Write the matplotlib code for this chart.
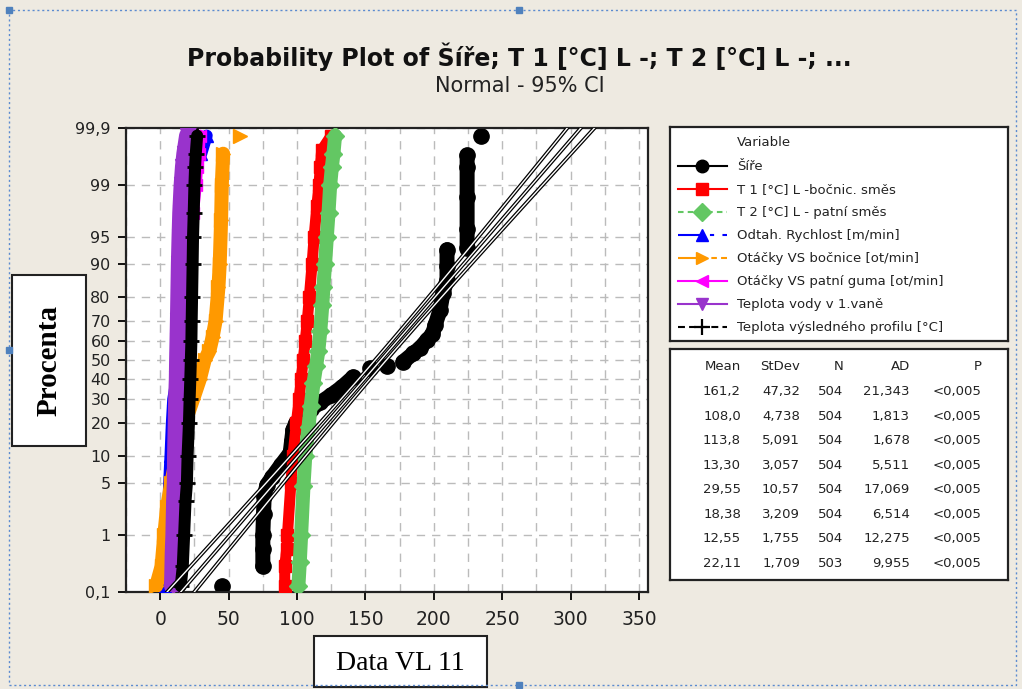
import matplotlib
matplotlib.use('Agg')
import numpy as np
import matplotlib.pyplot as plt
from matplotlib.patches import Rectangle
from statistics import NormalDist

plt.rcParams['font.family'] = ['DejaVu Sans']
plt.rcParams['lines.scale_dashes'] = False

# ---- data: (value, cumulative percent) per variable ----
sire_x = [45, 75, 75, 75, 75.5, 76, 78, 82, 88, 95, 96, 97, 99, 104.5, 110, 117, 125, 133,
          141, 153, 166, 177.5, 185, 190, 195, 199, 201, 204.5, 206.7, 209.6, 209.6, 209.6,
          224.3, 224.3, 224.3, 224.3, 224.3, 234.5]
sire_p = [0.13, 0.3, 0.6, 1.0, 2.0, 3.5, 4.8, 6, 8, 10.8, 14, 17.6, 20, 22.4, 25.5, 28.6, 32, 36,
          41, 45.7, 47, 49, 53.5, 56.4, 60.5, 63.5, 68, 74.7, 81.4, 85.7, 89.5, 92.9,
          93.2, 96, 98.5, 99.49, 99.68, 99.86]

t1_x = [91, 91, 92.5, 93, 95.5, 97, 99.5, 101.5, 103, 104.5, 106, 107.5, 109, 111, 112.5, 114.5,
        116, 117, 118, 125]
t1_p = [0.13, 0.3, 0.6, 1, 5, 10, 20, 30, 40, 50, 60, 70, 80, 90, 95, 98,
        99, 99.5, 99.74, 99.86]

t2_x = [101, 102, 103, 104.7, 106, 108.4, 110, 112, 114, 115.6, 117, 118.5, 119.3, 120.5, 121.8,
        123, 124.2, 125.5, 126.6, 127.8]
t2_p = [0.13, 0.35, 1, 4.6, 10, 18.7, 27, 37.8, 47, 55, 65, 77, 83.5, 90, 95,
        97.5, 99, 99.5, 99.7, 99.86]

odtah_x = [3.5, 4.5, 5.5, 6.5, 7.5, 8.5, 9.5, 12, 13, 14, 15, 15.5, 16, 16.5, 17, 20, 25, 30, 34]
odtah_p = [0.13, 0.5, 1, 5, 10, 20, 30, 40, 50, 60, 70, 80, 90, 95, 97.5, 99, 99.5, 99.7, 99.86]

bocnice_x = [-3, 1, 3, 5, 8, 12, 18, 24, 29, 32.5, 36, 38.3, 40.5, 42.6, 43.5, 44.5, 45, 46, 58]
bocnice_p = [0.13, 0.3, 1, 2.5, 5, 10, 20, 30, 40, 50, 55, 62, 70, 83.6, 90, 96.9, 99, 99.7, 99.86]

patni_x = [11, 13, 14, 15.5, 16, 17, 17.5, 18, 18.5, 19, 19.5, 20, 21, 22, 24, 26, 27, 28, 29]
patni_p = [0.13, 0.3, 1, 5, 10, 20, 30, 40, 50, 60, 70, 80, 90, 95, 97.5, 99, 99.5, 99.7, 99.86]

voda_x = [9, 9.5, 10, 10.5, 11, 11.2, 11.7, 12, 12.5, 12.7, 13, 13.3, 13.6, 14, 14.5, 15, 16, 17,
          18, 20]
voda_p = [0.13, 0.5, 1, 3, 5, 10, 20, 30, 40, 50, 60, 70, 80, 90, 95, 97.5, 99, 99.5,
          99.7, 99.86]

profil_x = [15, 16.5, 17.5, 18.5, 19.5, 20, 21, 21.5, 22, 22.4, 22.8, 23, 23.3, 23.7, 24, 24.5,
            25, 25.5, 26, 27]
profil_p = [0.13, 0.3, 1, 3, 5, 10, 20, 30, 40, 50, 60, 70, 80, 90, 95, 97.5,
            99, 99.5, 99.7, 99.86]

names = ['Šíře', 'T 1 [°C] L -bočnic. směs', 'T 2 [°C] L - patní směs',
         'Odtah. Rychlost [m/min]', 'Otáčky VS bočnice [ot/min]',
         'Otáčky VS patní guma [ot/min]', 'Teplota vody v 1.vaně',
         'Teplota výsledného profilu [°C]']

# summary table
means = ['161,2', '108,0', '113,8', '13,30', '29,55', '18,38', '12,55', '22,11']
stdevs = ['47,32', '4,738', '5,091', '3,057', '10,57', '3,209', '1,755', '1,709']
counts = ['504', '504', '504', '504', '504', '504', '504', '503']
ads = ['21,343', '1,813', '1,678', '5,511', '17,069', '6,514', '12,275', '9,955']
pvals = ['<0,005'] * 8

y_ticks = [0.1, 1, 5, 10, 20, 30, 40, 50, 60, 70, 80, 90, 95, 99, 99.9]
y_labels = ['0,1', '1', '5', '10', '20', '30', '40', '50', '60', '70', '80', '90', '95', '99', '99,9']
x_ticks = [0, 50, 100, 150, 200, 250, 300, 350]

# x, p, colour, marker, band width (px), marker size
series = [
    (sire_x, sire_p, 'black', 'o', 15, 11),
    (t1_x, t1_p, '#FF0000', 's', 11, 9),
    (t2_x, t2_p, '#63C763', 'D', 14, 9),
    (odtah_x, odtah_p, '#0000FF', '^', 12, 9),
    (bocnice_x, bocnice_p, '#FF9900', '>', 14, 10),
    (patni_x, patni_p, '#FF00FF', '<', 12, 9),
    (voda_x, voda_p, '#9933CC', 'v', 17, 11),
    (profil_x, profil_p, 'black', '+', 12, 11),
]
leg_styles = ['-', '-', (0, (4, 3)), (0, (17, 6, 3, 6)), (0, (14, 3, 4, 3, 4, 3)), '-', '-', (0, (5, 3))]

W, H = 1022, 689
nd = NormalDist()


def fx(x):
    return x / W


def fy(y):
    return 1 - y / H


def fwd(p):
    a = np.asarray(p, float)
    flat = np.clip(a.ravel() / 100.0, 1e-9, 1 - 1e-9)
    out = np.full(flat.shape, np.nan)
    for i, v in enumerate(flat):
        if np.isfinite(v):
            out[i] = nd.inv_cdf(v)
    return out.reshape(a.shape)


def inv(z):
    a = np.asarray(z, float)
    flat = a.ravel()
    out = np.full(flat.shape, np.nan)
    for i, v in enumerate(flat):
        if np.isfinite(v):
            out[i] = nd.cdf(v) * 100
    return out.reshape(a.shape)


fig = plt.figure(figsize=(W / 100, H / 100), dpi=100)
fig.patch.set_facecolor('#EEEAE1')

ax = fig.add_axes([fx(126), fy(592), fx(648) - fx(126), fy(128) - fy(592)])
ax.set_facecolor('white')
ax.set_yscale('function', functions=(fwd, inv))
ax.set_xlim(-25, 356.5)
ax.set_ylim(0.1, 99.9)

ax.set_xticks(x_ticks)
ax.set_xticks(np.arange(-25, 357, 25), minor=True)
ax.set_yticks(y_ticks)
ax.set_yticklabels(y_labels)
ax.yaxis.set_minor_locator(plt.NullLocator())
ax.tick_params(axis='x', which='major', direction='out', length=6, width=1.3,
               labelsize=13.5, pad=7, labelcolor='#222222')
ax.tick_params(axis='x', which='minor', length=0)
ax.tick_params(axis='y', direction='out', length=6, width=1.3, labelsize=11.5, pad=5,
               labelcolor='#222222')
ax.grid(True, which='both', axis='x', color='#BBBBBB', ls=(0, (6, 5)), lw=1)
ax.grid(True, which='major', axis='y', color='#BBBBBB', ls=(0, (6, 5)), lw=1)
ax.set_axisbelow(True)
for s in ax.spines.values():
    s.set_linewidth(1.6)
    s.set_color('#222222')

# data bands (drawn in legend order, later on top)
z = 2
for xs, ps, col, mk, band, ms in series:
    xs = np.asarray(xs, float)
    ps = np.asarray(ps, float)
    gaps = np.where(np.abs(np.diff(xs)) > 8)[0] + 1
    ax.plot(np.insert(xs, gaps, np.nan), np.insert(ps, gaps, np.nan), color=col,
            lw=band * 0.72, solid_capstyle='round', zorder=z)
    ax.plot(xs, ps, ls='none', marker=mk, color=col, ms=ms, mew=2 if mk == '+' else 1, zorder=z)
    z += 1

# fitted normal line with 95% CI for Šíře
mu = float(means[0].replace(',', '.'))
sd = float(stdevs[0].replace(',', '.'))
n = int(counts[0])
zz = np.linspace(-3.4, 3.4, 60)
pp = inv(zz)
half = 1.96 * sd * np.sqrt(1 / n + zz ** 2 / (2 * n))
for xx in (mu + zz * sd - half, mu + zz * sd, mu + zz * sd + half):
    ax.plot(xx, pp, color='black', lw=2.8, zorder=20)
    ax.plot(xx, pp, color='white', lw=1.0, zorder=21)

# titles
fig.text(fx(519), fy(57), 'Probability Plot of Šíře; T 1 [°C] L -; T 2 [°C] L -; ...',
         ha='center', va='center', fontsize=17, fontweight='bold', color='#111111')
fig.text(fx(520), fy(86), 'Normal - 95% CI', ha='center', va='center', fontsize=15,
         color='#222222')

# axis label boxes
fig.patches.append(Rectangle((fx(12), fy(446)), fx(86) - fx(12), fy(275) - fy(446),
                             transform=fig.transFigure, facecolor='white', edgecolor='#222222',
                             lw=1.5))
fig.text(fx(49), fy(360), 'Procenta', rotation=90, ha='center', va='center', fontsize=21,
         fontweight='bold', family='Liberation Serif')
fig.patches.append(Rectangle((fx(314), fy(687)), fx(487) - fx(314), fy(636) - fy(687),
                             transform=fig.transFigure, facecolor='white', edgecolor='#222222',
                             lw=1.5))
fig.text(fx(400), fy(663), 'Data VL 11', ha='center', va='center', fontsize=20,
         family='Liberation Serif')

# legend box
lg = fig.add_axes([fx(670), fy(341), fx(1008) - fx(670), fy(127) - fy(341)])
lg.set_xlim(670, 1008)
lg.set_ylim(341, 127)
lg.set_xticks([])
lg.set_yticks([])
for s in lg.spines.values():
    s.set_linewidth(1.6)
    s.set_color('#222222')
lg.text(737, 143, 'Variable', va='center', fontsize=9.5, color='#222222')
for i, (nm, (xs, ps, col, mk, band, ms), st) in enumerate(zip(names, series, leg_styles)):
    yy = 166.5 + 23 * i
    lg.plot([678, 727], [yy, yy], color=col, lw=1.5, ls=st)
    lg.plot([702], [yy], ls='none', marker=mk, color=col, ms=9 if mk != '+' else 11,
            mew=1.6 if mk == '+' else 1)
    lg.text(737, yy, nm, va='center', fontsize=9.5, color='#222222')

# statistics box
tb = fig.add_axes([fx(670), fy(580), fx(1008) - fx(670), fy(349) - fy(580)])
tb.set_xlim(670, 1008)
tb.set_ylim(580, 349)
tb.set_xticks([])
tb.set_yticks([])
for s in tb.spines.values():
    s.set_linewidth(1.6)
    s.set_color('#222222')
cols_x = [741, 800, 843, 910, 982]
for cx, head in zip(cols_x, ['Mean', 'StDev', 'N', 'AD', 'P']):
    tb.text(cx, 367, head, ha='right', va='center', fontsize=9.5, color='#222222')
for i, row in enumerate(zip(means, stdevs, counts, ads, pvals)):
    for cx, val in zip(cols_x, row):
        tb.text(cx, 391.7 + 24.5 * i, val, ha='right', va='center', fontsize=9.5,
                color='#222222')

# selection frame of the embedded picture
fig.patches.append(Rectangle((fx(9), fy(685)), fx(1016) - fx(9), fy(10) - fy(685),
                             transform=fig.transFigure, fill=False, edgecolor='#5B8BD0',
                             lw=1, ls=(0, (1.5, 2))))
for hx, hy in [(9, 10), (519, 10), (9, 350), (519, 685)]:
    fig.patches.append(Rectangle((fx(hx - 3), fy(hy + 3)), 6 / W, 6 / H,
                                 transform=fig.transFigure, facecolor='#4F81BD',
                                 edgecolor='#4F81BD'))

fig.savefig('out.png', dpi=100, facecolor=fig.get_facecolor())
plt.close(fig)
